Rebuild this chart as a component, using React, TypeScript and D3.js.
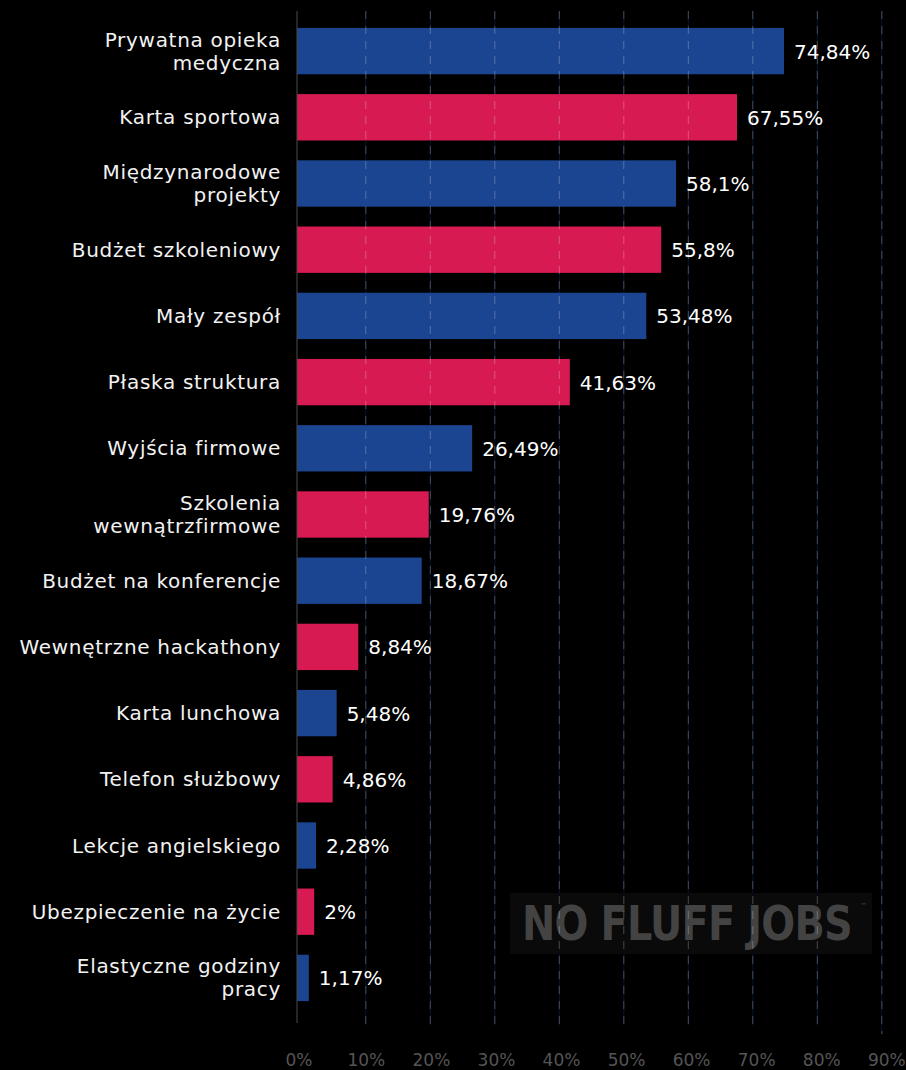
import React from "react";
import * as d3 from "d3";

const categories: string[][] = [
  ["Prywatna opieka", "medyczna"],
  ["Karta sportowa"],
  ["Międzynarodowe", "projekty"],
  ["Budżet szkoleniowy"],
  ["Mały zespół"],
  ["Płaska struktura"],
  ["Wyjścia firmowe"],
  ["Szkolenia", "wewnątrzfirmowe"],
  ["Budżet na konferencje"],
  ["Wewnętrzne hackathony"],
  ["Karta lunchowa"],
  ["Telefon służbowy"],
  ["Lekcje angielskiego"],
  ["Ubezpieczenie na życie"],
  ["Elastyczne godziny", "pracy"],
];
const values: number[] = [74.84, 67.55, 58.1, 55.8, 53.48, 41.63, 26.49, 19.76, 18.67, 8.84, 5.48, 4.86, 2.28, 2, 1.17];
const valueLabels: string[] = ["74,84%", "67,55%", "58,1%", "55,8%", "53,48%", "41,63%", "26,49%", "19,76%", "18,67%", "8,84%", "5,48%", "4,86%", "2,28%", "2%", "1,17%"];
const ticks: number[] = [0, 10, 20, 30, 40, 50, 60, 70, 80, 90];

const W = 906;
const H = 1070;
const BLUE = "#1b4491";
const RED = "#d71a51";
const FONT = "'DejaVu Sans', 'Noto Sans', sans-serif";

export default function App() {
  React.useEffect(() => {
    document.body.style.margin = "0";
    document.body.style.background = "#000";
  }, []);

  const ids = categories.map((_, i) => String(i));
  const x = d3.scaleLinear().domain([0, 90]).range([301.3, 881.8]);
  const y = d3
    .scaleBand<string>()
    .domain(ids)
    .range([18, 18 + 66.2 * 15])
    .paddingInner(0.3)
    .paddingOuter(0.15);
  const axisX = 297;
  const gridTop = 11;
  const gridBottom = 1025;

  return (
    <svg width={W} height={H} style={{ display: "block", background: "#000" }}>
      <rect x={0} y={0} width={W} height={H} fill="#000" />
      {/* grid base (navy) */}
      {ticks.slice(1).map((t) => (
        <line key={"gb" + t} x1={x(t)} x2={x(t)} y1={gridTop} y2={t === 90 ? 1034 : gridBottom} stroke="#081530" strokeWidth={1} />
      ))}
      {/* watermark */}
      <rect x={510} y={893} width={362} height={61} fill="#0a0a0a" />
      <g transform="translate(522,940) scale(0.83,1)">
        <text x={0} y={0} fill="#434343" fontFamily={FONT} fontWeight={700} fontSize={48} letterSpacing={-1}>
          NO FLUFF JOBS
        </text>
      </g>
      <text x={860} y={908} fill="#434343" fontFamily={FONT} fontSize={7}>
        ™
      </text>
      {/* bars */}
      {values.map((v, i) => (
        <rect key={"b" + i} x={axisX} y={y(ids[i])!} width={x(v) - axisX} height={y.bandwidth()} fill={i % 2 === 0 ? BLUE : RED} />
      ))}
      {/* grid dashes */}
      {ticks.slice(1).map((t) => (
        <line key={"gd" + t} x1={x(t)} x2={x(t)} y1={gridTop} y2={t === 90 ? 1034 : gridBottom} stroke="#ffffff" strokeOpacity={0.26} strokeWidth={1} strokeDasharray="8,7" />
      ))}
      {/* axis line */}
      <line x1={axisX} x2={axisX} y1={gridTop} y2={1023} stroke="#4a4a4a" strokeWidth={1} />
      {/* category labels */}
      {categories.map((lines, i) => {
        const cy = y(ids[i])! + y.bandwidth() / 2;
        const lh = 23;
        const start = cy - ((lines.length - 1) * lh) / 2;
        return (
          <text key={"c" + i} x={281} textAnchor="end" fill="#f2f2f2" fontFamily={FONT} fontSize={20} letterSpacing={0.7}>
            {lines.map((l, j) => (
              <tspan key={j} x={281} y={start + j * lh} dy="0.35em">
                {l}
              </tspan>
            ))}
          </text>
        );
      })}
      {/* value labels */}
      {values.map((v, i) => (
        <text key={"v" + i} x={x(v) + 10} y={y(ids[i])! + y.bandwidth() / 2} dy="0.37em" fill="#ffffff" fontFamily={FONT} fontSize={20}>
          {valueLabels[i]}
        </text>
      ))}
      {/* tick labels */}
      {ticks.map((t) => (
        <text key={"t" + t} x={t === 0 ? 299 : x(t) + (t / 90) * 5} y={1066} textAnchor="middle" fill="#555555" fontFamily={FONT} fontSize={17}>
          {t + "%"}
        </text>
      ))}
    </svg>
  );
}
